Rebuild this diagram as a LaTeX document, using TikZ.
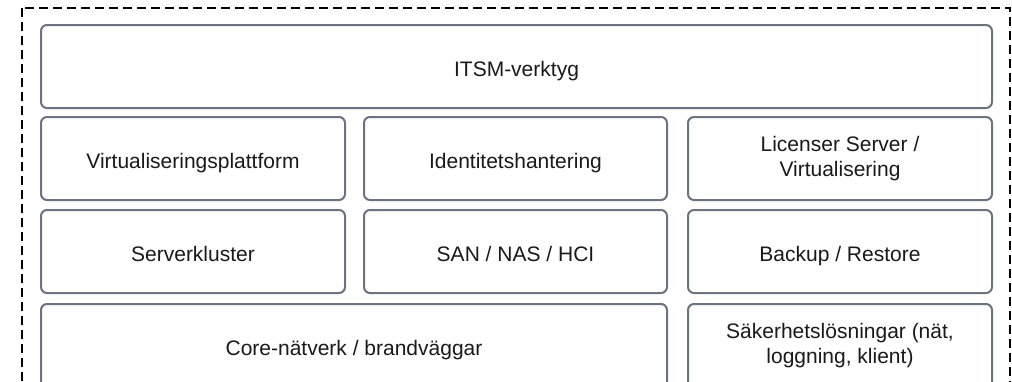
\documentclass[tikz,border=0pt]{standalone}
\usepackage{fontspec}
\setmainfont{Liberation Sans}
\usepackage{xcolor}
\usepackage{tikz}
\usetikzlibrary{positioning}
\definecolor{layergray}{HTML}{6B7280}
\definecolor{layertext}{HTML}{1A1A1A}

\begin{document}
\begin{tikzpicture}[
    x=1pt, y=1pt,
    layer/.style={rectangle, draw=layergray, line width=2pt, rounded corners=6pt, fill=white,
        text=layertext, align=center, inner sep=0pt, minimum height=83pt,
        font=\fontsize{21}{25}\selectfont,
        execute at begin node={\rule[-4.5pt]{0pt}{28.5pt}}},
    frame/.style={draw=black, line width=2.6pt, dash pattern=on 9pt off 5pt}
]
    \useasboundingbox (0,0) rectangle (1012,-381);
    \clip (0,0) rectangle (1012,-381);
    \draw[frame] (22,-8) rectangle (1010,-405);

    % top row
    \node[layer, minimum width=951pt] (itsm) at (516.5,-66.5) {ITSM-verktyg};

    % platform row
    \node[layer, minimum width=304pt] (virt) at (193,-158.5) {Virtualiseringsplattform};
    \node[layer, minimum width=303pt] (ident) at (515.5,-158.5) {Identitetshantering};
    \node[layer, minimum width=304pt] (licens) at (840,-158.5) {Licenser Server /\\Virtualisering};

    % infrastructure row
    \node[layer, minimum width=304pt] (server) at (193,-251.5) {Serverkluster};
    \node[layer, minimum width=303pt] (storage) at (515.5,-251.5) {SAN / NAS / HCI};
    \node[layer, minimum width=304pt] (backup) at (840,-251.5) {Backup / Restore};

    % network row
    \node[layer, minimum width=626pt, minimum height=84pt] (core) at (354,-346) {Core-nätverk / brandväggar};
    \node[layer, minimum width=304pt, minimum height=84pt] (sakerhet) at (840,-346) {Säkerhetslösningar (nät,\\loggning, klient)};
\end{tikzpicture}
\end{document}
